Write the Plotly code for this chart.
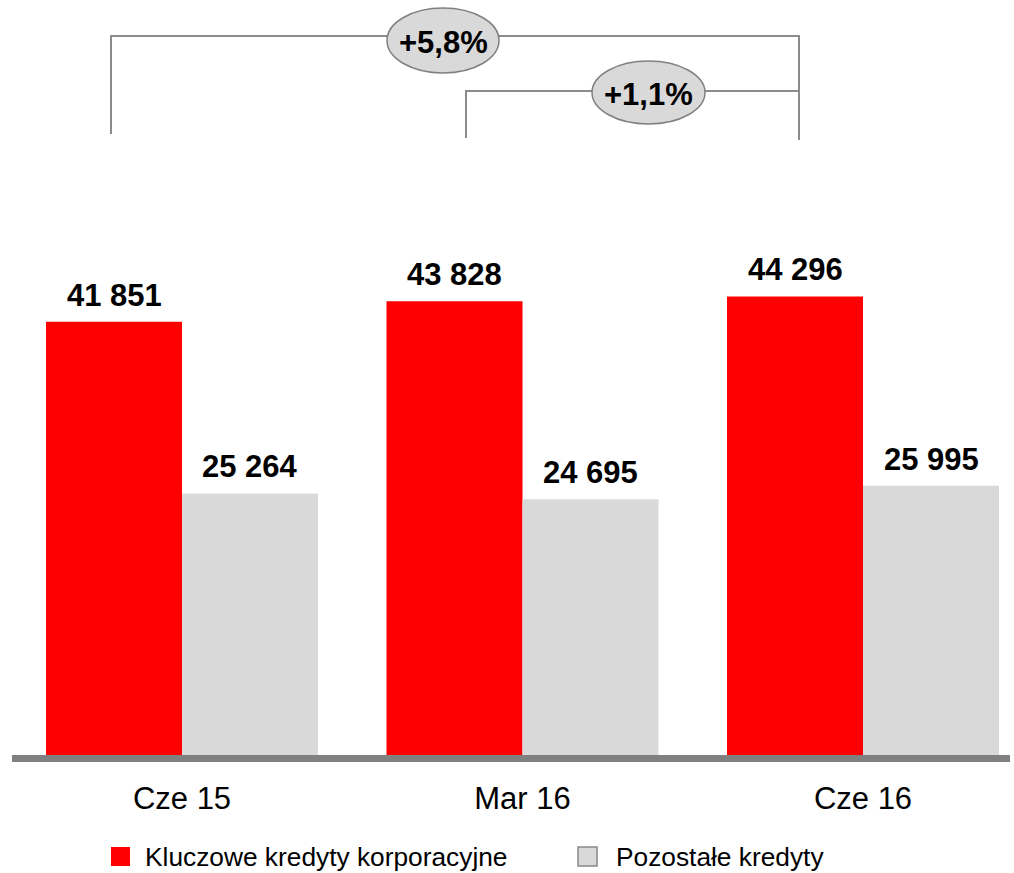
import plotly.graph_objects as go

categories = ["Cze 15", "Mar 16", "Cze 16"]
series_names = ["Kluczowe kredyty korporacyjne", "Pozostałe kredyty"]
key_loans = [41851, 43828, 44296]
other_loans = [25264, 24695, 25995]
growth_labels = ["+5,8%", "+1,1%"]

W, H = 1014, 873
PLOT_BOTTOM = 755  # pixel of the baseline
FONT = "Liberation Sans, Arial, sans-serif"
RED = "#FF0000"
GREY = "#D9D9D9"
LINE = "#8C8C8C"
BAR_PX = 136


def px(x):
    return x / W


def py(y):
    return (PLOT_BOTTOM - y) / PLOT_BOTTOM


def fmt(v):
    return f"{v:,}".replace(",", " ")


fig = go.Figure()
fig.add_trace(go.Bar(x=categories, y=key_loans, name=series_names[0],
                     marker=dict(color=RED, line=dict(width=0)), showlegend=False))
fig.add_trace(go.Bar(x=categories, y=other_loans, name=series_names[1],
                     marker=dict(color=GREY, line=dict(width=0)), showlegend=False))

annotations = []
# value labels above bars
for values, shift in ((key_loans, -BAR_PX / 2), (other_loans, BAR_PX / 2)):
    for c, v in zip(categories, values):
        annotations.append(dict(x=c, y=v, xref="x", yref="y", text=f"<b>{fmt(v)}</b>", showarrow=False,
                                xanchor="center", yanchor="bottom", xshift=shift, yshift=7,
                                font=dict(family=FONT, size=31, color="black")))

shapes = []
# baseline
shapes.append(dict(type="line", xref="paper", yref="paper", x0=px(12), x1=px(1010),
                   y0=py(758.5), y1=py(758.5), line=dict(color="#808080", width=7)))
# brackets
shapes.append(dict(type="path", xref="paper", yref="paper",
                   path=f"M {px(111)},{py(134)} L {px(111)},{py(36)} L {px(799)},{py(36)} L {px(799)},{py(140)}",
                   line=dict(color=LINE, width=2)))
shapes.append(dict(type="path", xref="paper", yref="paper",
                   path=f"M {px(466)},{py(138)} L {px(466)},{py(91)} L {px(799)},{py(91)}",
                   line=dict(color=LINE, width=2)))
# ellipses
ellipses = [(387, 499, 8, 73), (592, 705, 61, 124)]
for (x0, x1, y0, y1), lab in zip(ellipses, growth_labels):
    shapes.append(dict(type="circle", xref="paper", yref="paper", x0=px(x0), x1=px(x1),
                       y0=py(y1), y1=py(y0), fillcolor=GREY, line=dict(color="#808080", width=1.5)))
    annotations.append(dict(xref="paper", yref="paper", x=px((x0 + x1) / 2), y=py((y0 + y1) / 2 + 2),
                            text=f"<b>{lab}</b>", showarrow=False, xanchor="center", yanchor="middle",
                            font=dict(family=FONT, size=31, color="black")))
# legend (manual)
legend_items = [(111, 143, RED, None), (578, 614, GREY, "#888888")]
for (sx, tx, col, border), name in zip(legend_items, series_names):
    shapes.append(dict(type="rect", xref="paper", yref="paper", x0=px(sx), x1=px(sx + 19),
                       y0=py(866), y1=py(847), fillcolor=col,
                       line=dict(color=border if border else col, width=1.5 if border else 0)))
    annotations.append(dict(xref="paper", yref="paper", x=px(tx), y=py(857), text=name, showarrow=False,
                            xanchor="left", yanchor="middle", font=dict(family=FONT, size=26.3, color="black")))

unit = 340.5
c0 = 182
fig.update_layout(
    width=W, height=H,
    margin=dict(l=0, r=0, t=0, b=H - PLOT_BOTTOM),
    plot_bgcolor="white", paper_bgcolor="white",
    barmode="group", bargap=1 - 2 * BAR_PX / unit, bargroupgap=0,
    shapes=shapes, annotations=annotations,
    xaxis=dict(range=[-c0 / unit, (W - c0) / unit], showgrid=False, zeroline=False, showline=False,
               ticks="outside", ticklen=16, tickcolor="rgba(0,0,0,0)",
               tickfont=dict(family=FONT, size=31, color="black")),
    yaxis=dict(range=[0, PLOT_BOTTOM / (433.3 / 41851)], visible=False, showgrid=False, zeroline=False),
    showlegend=False,
)

fig.write_html("out.html", config={"displayModeBar": False},
               post_script="document.body.style.margin='0';document.body.style.overflow='hidden';")
